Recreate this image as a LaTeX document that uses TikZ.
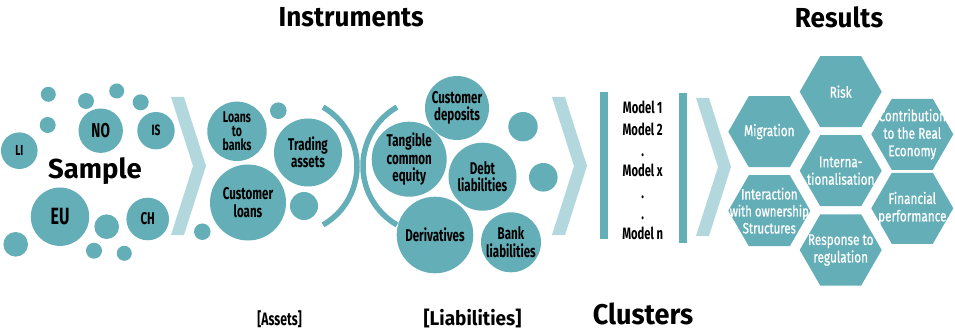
\documentclass[tikz,border=0pt]{standalone}
\usepackage{fontspec}
\setmainfont{Fira Sans}
\newfontfamily\condf[FakeStretch=0.68]{Fira Sans}
\newfontfamily\hexf[FakeStretch=0.76,FakeBold=0.8]{Fira Sans}
\newfontfamily\headf[FakeStretch=0.95]{Fira Sans}
\newfontfamily\widef{Fira Sans}
\usetikzlibrary{shapes.geometric}
\definecolor{tealc}{RGB}{100,174,183}
\definecolor{chevc}{RGB}{178,216,222}
\begin{document}
\begin{tikzpicture}[x=1pt,y=-1pt,
  blob/.style={circle,fill=tealc,inner sep=0pt,minimum size=#1pt},
  ctext/.style={font=\condf\bfseries\fontsize{17}{17.5}\selectfont,align=center,text=black,inner sep=0pt},
  mtext/.style={font=\condf\bfseries\fontsize{16.5}{17}\selectfont,text=black,inner sep=0pt,anchor=base},
  hexa/.style={regular polygon,regular polygon sides=6,fill=tealc,inner sep=0pt,minimum size=82pt},
  htext/.style={font=\hexf\fontsize{15.5}{17.5}\selectfont,align=center,text=white,inner sep=0pt},
  head/.style={font=\headf\bfseries\fontsize{27.5}{30}\selectfont,text=black,inner sep=0pt,anchor=base},
  sub/.style={font=\headf\bfseries\fontsize{20}{22}\selectfont,text=black,inner sep=0pt,anchor=base},
  chev/.style={fill=chevc},
  bar/.style={fill=tealc},
  arcline/.style={draw=tealc,line width=5.5pt,line cap=butt}
]
\useasboundingbox (0,0) rectangle (955,331);

% headings
\node[head] (hInstr) at (351.3,26.7) {Instruments};
\node[head] (hRes) at (839,27.3) {Results};
\node[head,font=\headf\bfseries\fontsize{28.5}{30}\selectfont] (hClus) at (643,324) {Clusters};
\node[sub] (hLiab) at (472.5,325.5) {[Liabilities]};
\node[mtext,font=\condf\bfseries\fontsize{18}{18}\selectfont] (hAss) at (279.5,325.5) {[Assets]};

% sample cloud
\node[blob=15] (s1) at (48.3,94.3) {};
\node[blob=16] (s2) at (86,101) {};
\node[blob=15] (s3) at (116.7,91) {};
\node[blob=16] (s4) at (140.7,102.3) {};
\node[blob=16] (s5) at (47.7,125) {};
\node[blob=24.6] (s6) at (106.7,226.7) {};
\node[blob=24.6] (s7) at (15.7,244.3) {};
\node[blob=16] (s8) at (94,250.7) {};
\node[blob=15] (s9) at (124.3,253.3) {};
\node[blob=16.5] (s10) at (202.3,231.7) {};
\node[blob=44.4] (cNO) at (100.7,130.7) {};
\node[blob=37.4] (cIS) at (156,130.7) {};
\node[blob=36.6] (cLI) at (19.3,150.7) {};
\node[blob=58.4] (cEU) at (60,216.7) {};
\node[blob=42.6] (cCH) at (147.7,219) {};
\node[ctext,font=\condf\bfseries\fontsize{20}{20}\selectfont] (tNO) at (cNO) {NO};
\node[ctext,font=\condf\bfseries\fontsize{15}{16}\selectfont] (tIS) at (cIS) {IS};
\node[ctext,font=\condf\bfseries\fontsize{14.5}{15}\selectfont] (tLI) at (cLI) {LI};
\node[ctext,font=\condf\bfseries\fontsize{23.5}{24}\selectfont] (tEU) at (cEU) {EU};
\node[ctext,font=\condf\bfseries\fontsize{17}{17}\selectfont] (tCH) at (cCH) {CH};
\node[head,font=\widef\bfseries\fontsize{27.5}{28}\selectfont] (hSample) at (95,178.3) {Sample};

% chevron 1
\fill[chev] (171,97) -- (184,97) -- (206,166) -- (184,235) -- (171,235) -- (193,166) -- cycle;

% assets
\node[blob=59.4] (cLoans) at (237,131.3) {};
\node[blob=68] (cTrading) at (308,152.5) {};
\node[blob=76] (cCustL) at (248,202.5) {};
\node[blob=16.6] (a1) at (278.3,110.7) {};
\node[blob=28] (a2) at (304,206) {};
\node[ctext,font=\condf\bfseries\fontsize{15.5}{14}\selectfont] (tLoans) at (cLoans) {Loans\\to\\banks};
\node[ctext] (tTrading) at (cTrading) {Trading\\assets};
\node[ctext,font=\condf\bfseries\fontsize{17}{18}\selectfont] (tCustL) at (cCustL) {Customer\\loans};

% brackets
\coordinate (arcR) at (289,166);
\coordinate (arcL) at (431,166);
\draw[arcline] (arcR) ++(-60:68pt) arc[start angle=-60,end angle=60,radius=68pt];
\draw[arcline] (arcL) ++(120:68pt) arc[start angle=120,end angle=240,radius=68pt];

% liabilities
\node[blob=64] (cDep) at (457,108) {};
\node[blob=75] (cTang) at (409.2,159.2) {};
\node[blob=68] (cDebt) at (482.5,176.7) {};
\node[blob=29.4] (l1) at (523,126.7) {};
\node[blob=28.6] (l2) at (543.3,177.3) {};
\node[blob=76.6] (cDeriv) at (435,235) {};
\node[blob=60] (cBank) at (511,242.3) {};
\node[ctext] (tDep) at (cDep) {Customer\\deposits};
\node[ctext] (tTang) at (cTang) {Tangible\\common\\equity};
\node[ctext] (tDebt) at (cDebt) {Debt\\liabilities};
\node[ctext] (tDeriv) at (cDeriv) {Derivatives};
\node[ctext] (tBank) at (cBank) {Bank\\liabilities};

% chevron 2
\fill[chev] (552,97) -- (565,97) -- (587,166) -- (565,235) -- (552,235) -- (574,166) -- cycle;

% models
\fill[bar] (599.5,92) rectangle (607.5,238.5);
\fill[bar] (679,93) rectangle (686.5,242.5);
\node[mtext] (m1) at (642.7,113.5) {Model 1};
\node[mtext] (m2) at (642.7,135.5) {Model 2};
\node[mtext] (md1) at (642.7,157) {.};
\node[mtext] (mx) at (642.7,177) {Model x};
\node[mtext] (md2) at (642.7,199) {.};
\node[mtext] (md3) at (642.7,219) {.};
\node[mtext] (mn) at (642.7,239.5) {Model n};

% chevron 3
\fill[chev] (696,98) -- (709,98) -- (731,167) -- (709,236) -- (696,236) -- (718,167) -- cycle;

% results
\node[hexa] (xRisk) at (840.7,91.7) {};
\node[hexa] (xMig) at (769.3,131.7) {};
\node[hexa] (xContr) at (912.3,134.3) {};
\node[hexa] (xInt) at (840.7,170.7) {};
\node[hexa] (xInter) at (769.3,210.7) {};
\node[hexa] (xFin) at (912.3,208.3) {};
\node[hexa] (xResp) at (840.7,250) {};
\node[htext] (tRisk) at (xRisk) {Risk};
\node[htext] (tMig) at (xMig) {Migration};
\node[htext] (tContr) at (xContr) {Contribution\\to the Real\\Economy};
\node[htext] (tInt) at (xInt) {Interna-\\tionalisation};
\node[htext,font=\hexf\fontsize{15}{17}\selectfont] (tInter) at (xInter) {Interaction\\with ownership\\Structures};
\node[htext] (tFin) at (xFin) {Financial\\performance};
\node[htext] (tResp) at (xResp) {Response to\\regulation};
\end{tikzpicture}
\end{document}
